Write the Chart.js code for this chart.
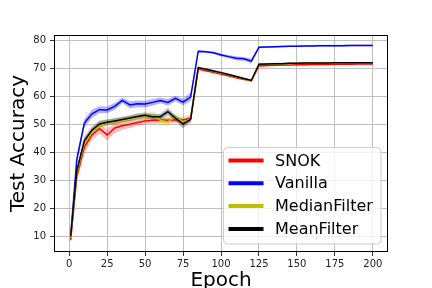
<!DOCTYPE html>
<html>
<head>
<meta charset="utf-8">
<script src="https://cdn.jsdelivr.net/npm/chart.js@4/dist/chart.umd.min.js"></script>
<style>
  html, body { margin: 0; padding: 0; background: #fff; }
  #c { display: block; }
</style>
</head>
<body>
<canvas id="c" width="432" height="288"></canvas>
<script>
const epochs = [1,5,10,15,20,25,30,35,40,45,50,55,60,65,70,75,80,85,90,95,100,105,110,115,120,125,130,135,140,145,150,155,160,165,170,175,180,185,190,195,200];

const snok = [8.8,31.5,42.0,46.3,48.5,46.3,48.8,49.6,50.1,50.7,51.3,51.5,51.6,51.5,51.6,51.6,52.2,69.8,69.2,68.6,68.0,67.4,66.7,66.1,65.6,70.9,71.0,71.1,71.2,71.2,71.3,71.3,71.4,71.4,71.4,71.5,71.5,71.5,71.6,71.6,71.6];
const snokStd = [1.2,2.0,2.2,2.0,1.8,2.0,1.8,1.5,1.3,1.2,1.2,1.2,1.0,1.0,1.0,1.0,1.0,0.4,0.4,0.4,0.4,0.4,0.4,0.4,0.4,0.3,0.3,0.3,0.3,0.3,0.3,0.3,0.3,0.3,0.3,0.3,0.3,0.3,0.3,0.3,0.3];

const vanilla = [10.5,37.5,50.5,53.8,55.3,55.2,56.5,58.6,57.0,57.4,57.3,57.9,58.6,57.9,59.3,58.0,59.8,76.1,75.9,75.6,74.8,74.2,73.6,73.4,72.6,77.5,77.6,77.7,77.8,77.9,77.9,78.0,78.0,78.1,78.1,78.1,78.1,78.2,78.2,78.2,78.2];
const vanillaStd = [1.0,1.5,1.5,1.5,1.2,1.2,1.2,1.0,1.2,1.2,1.2,1.2,1.0,1.2,1.0,1.2,1.5,0.4,0.4,0.4,0.5,0.6,0.7,0.7,0.8,0.3,0.3,0.3,0.3,0.3,0.3,0.3,0.3,0.3,0.3,0.3,0.3,0.3,0.3,0.3,0.3];

const median = [9.8,32.5,43.3,47.3,49.6,50.6,51.0,51.5,52.0,52.6,52.8,53.2,51.5,51.0,52.8,51.0,51.9,70.1,69.6,69.0,68.4,67.7,67.0,66.3,65.6,71.4,71.6,71.6,71.7,71.7,71.8,71.8,71.8,71.9,71.9,71.9,71.9,72.0,72.0,72.0,72.0];
const medianStd = [1.0,1.5,1.5,1.2,1.2,1.2,1.0,1.0,1.0,1.0,1.0,1.5,1.5,1.5,1.0,1.0,1.0,0.4,0.4,0.4,0.4,0.4,0.4,0.4,0.4,0.3,0.3,0.3,0.3,0.3,0.3,0.3,0.3,0.3,0.3,0.3,0.3,0.3,0.3,0.3,0.3];

const mean = [10.2,33.5,44.2,48.0,50.2,50.8,51.3,51.8,52.3,52.9,53.3,52.8,52.8,54.6,52.3,50.2,51.8,70.3,69.7,69.1,68.5,67.8,67.1,66.4,65.7,71.5,71.6,71.7,71.7,71.8,71.8,71.9,71.9,71.9,71.9,72.0,72.0,72.0,72.0,72.0,72.0];
const meanStd = [1.0,1.5,1.5,1.2,1.2,1.0,1.0,1.0,1.0,1.0,1.0,1.0,1.0,1.3,1.0,1.5,1.0,0.4,0.4,0.4,0.4,0.4,0.4,0.4,0.4,0.3,0.3,0.3,0.3,0.3,0.3,0.3,0.3,0.3,0.3,0.3,0.3,0.3,0.3,0.3,0.3];

const seriesNames = ['SNOK','Vanilla','MedianFilter','MeanFilter'];
const xTicks = [0,25,50,75,100,125,150,175,200];
const yTicks = [10,20,30,40,50,60,70,80];

const seriesValues = [snok, vanilla, median, mean];
const seriesStd = [snokStd, vanillaStd, medianStd, meanStd];
const lineColors = ['#ff0000','#0000ff','#bfbf00','#000000'];
const bandColors = ['rgba(255,0,0,0.25)','rgba(0,0,255,0.3)','rgba(191,191,0,0.3)','rgba(0,0,0,0.3)'];

const pts = (arr) => epochs.map((e, i) => ({x: e, y: arr[i]}));

const datasets = [];
seriesNames.forEach((name, s) => {
  const v = seriesValues[s], sd = seriesStd[s];
  datasets.push({
    label: name + ' upper', data: pts(v.map((y, i) => y + sd[i])),
    borderWidth: 0, pointRadius: 0, fill: false, order: 30
  });
  datasets.push({
    label: name + ' lower', data: pts(v.map((y, i) => y - sd[i])),
    borderWidth: 0, pointRadius: 0, fill: '-1', backgroundColor: bandColors[s],
    borderColor: 'rgba(0,0,0,0)', order: 20 - s
  });
});
seriesNames.forEach((name, s) => {
  datasets.push({
    label: name, data: pts(seriesValues[s]),
    borderColor: lineColors[s], borderWidth: 1.5, pointRadius: 0, fill: false,
    tension: 0, order: 3 - s
  });
});

const framePlugin = {
  id: 'frame',
  afterDatasetsDraw(chart) {
    const {ctx, chartArea: a} = chart;
    ctx.save();
    ctx.strokeStyle = '#000';
    ctx.lineWidth = 1;
    ctx.strokeRect(Math.round(a.left) + 0.5, Math.round(a.top) + 0.5,
                   Math.round(a.right - a.left) - 1, Math.round(a.bottom - a.top) - 1);
    ctx.restore();
  }
};

const legendPlugin = {
  id: 'boxLegend',
  afterDraw(chart) {
    const ctx = chart.ctx;
    const x = 223.5, y = 147.5, w = 157.5, h = 96.5, r = 4;
    ctx.save();
    ctx.beginPath();
    ctx.moveTo(x + r, y);
    ctx.arcTo(x + w, y, x + w, y + h, r);
    ctx.arcTo(x + w, y + h, x, y + h, r);
    ctx.arcTo(x, y + h, x, y, r);
    ctx.arcTo(x, y, x + w, y, r);
    ctx.closePath();
    ctx.fillStyle = 'rgba(255,255,255,0.8)';
    ctx.fill();
    ctx.strokeStyle = '#cccccc';
    ctx.lineWidth = 1;
    ctx.stroke();
    ctx.font = '16px "DejaVu Sans"';
    ctx.textBaseline = 'middle';
    ctx.textAlign = 'left';
    seriesNames.forEach((name, i) => {
      const cy = 160.5 + i * 22.8;
      ctx.beginPath();
      ctx.moveTo(228.5, cy);
      ctx.lineTo(263.5, cy);
      ctx.strokeStyle = lineColors[i];
      ctx.lineWidth = 4;
      ctx.stroke();
      ctx.fillStyle = '#000';
      ctx.fillText(name, 275, cy + 1);
    });
    ctx.restore();
  }
};

new Chart(document.getElementById('c'), {
  type: 'line',
  data: { datasets },
  options: {
    responsive: false,
    animation: false,
    devicePixelRatio: 1,
    layout: { padding: { top: 35, right: 44, left: 0, bottom: 0 } },
    plugins: { legend: { display: false }, tooltip: { enabled: false }, filler: { propagate: false } },
    scales: {
      x: {
        type: 'linear', min: -10, max: 210,
        afterFit: (s) => { s.height = 36; },
        afterBuildTicks: (s) => { s.ticks = xTicks.map(v => ({value: v})); },
        grid: { color: '#b0b0b0', lineWidth: 0.8, tickColor: '#000', tickLength: 4, tickWidth: 0.8 },
        border: { display: false },
        ticks: { font: { family: 'DejaVu Sans', size: 10 }, color: '#222', padding: 2, maxRotation: 0, autoSkip: false },
        title: { display: true, text: 'Epoch', font: { family: 'DejaVu Sans', size: 20, lineHeight: 0.73 }, color: '#000', padding: 0 }
      },
      y: {
        type: 'linear', min: 4.6, max: 81.9,
        afterFit: (s) => { s.width = 54; },
        afterBuildTicks: (s) => { s.ticks = yTicks.map(v => ({value: v})); },
        grid: { color: '#b0b0b0', lineWidth: 0.8, tickColor: '#000', tickLength: 4, tickWidth: 0.8 },
        border: { display: false },
        ticks: { font: { family: 'DejaVu Sans', size: 10 }, color: '#222', padding: 4, autoSkip: false },
        title: { display: true, text: 'Test Accuracy', font: { family: 'DejaVu Sans', size: 20, lineHeight: 1.2 }, color: '#000', padding: { top: 7, bottom: 0 } }
      }
    }
  },
  plugins: [framePlugin, legendPlugin]
});
</script>
</body>
</html>
